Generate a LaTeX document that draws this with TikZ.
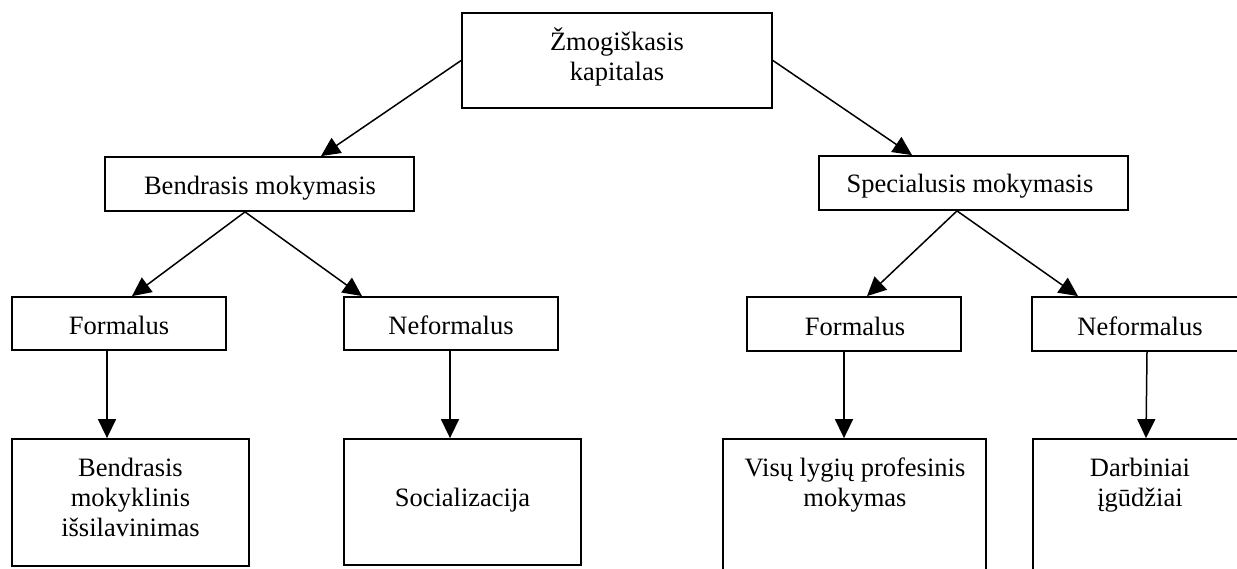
\documentclass[tikz,border=0pt]{standalone}
\usepackage{fontspec}
\setmainfont{Liberation Serif}
\usetikzlibrary{arrows.meta}
\begin{document}
\begin{tikzpicture}[x=1pt, y=-1pt,
  box/.style={draw, line width=1.8pt, rectangle, inner sep=0pt},
  lbl/.style={font=\fontsize{26.5}{30}\selectfont, align=center, inner sep=0pt},
  arr/.style={line width=1.5pt, -{Triangle[length=19pt, width=18pt]}}]
\clip (0,0) rectangle (1237,568);

% boxes
\node[box, minimum width=310pt, minimum height=95pt]  (top) at (617,60.5) {};
\node[box, minimum width=309pt, minimum height=54pt]  (bm)  at (259.5,184) {};
\node[box, minimum width=309pt, minimum height=54pt]  (sm)  at (973.5,183) {};
\node[box, minimum width=214pt, minimum height=53pt]  (f1)  at (119,323.5) {};
\node[box, minimum width=214pt, minimum height=53pt]  (n1)  at (451,323.5) {};
\node[box, minimum width=214pt, minimum height=54pt]  (f2)  at (854,324) {};
\node[box, minimum width=215pt, minimum height=54pt]  (n2)  at (1139.5,324) {};
\node[box, minimum width=237pt, minimum height=127pt] (b1)  at (130.5,502.5) {};
\node[box, minimum width=237pt, minimum height=126pt] (b2)  at (462.5,502) {};
\node[box, minimum width=263pt, minimum height=161pt] (b3)  at (854.5,519.5) {};
\node[box, minimum width=214pt, minimum height=161pt] (b4)  at (1140,519.5) {};

% labels
\node[lbl, anchor=north] (ttop) at (617,25) {\rule{0pt}{25pt}Žmogiškasis\\kapitalas};
\node[lbl, anchor=base]  (tbm)  at (260,194) {Bendrasis mokymasis};
\node[lbl, anchor=base]  (tsm)  at (970,192) {Specialusis mokymasis};
\node[lbl, anchor=base]  (tf1)  at (119,334) {Formalus};
\node[lbl, anchor=base]  (tn1)  at (451,334) {Neformalus};
\node[lbl, anchor=base]  (tf2)  at (855,335) {Formalus};
\node[lbl, anchor=base]  (tn2)  at (1140,335) {Neformalus};
\node[lbl, anchor=north] (tb1)  at (130.5,451) {\rule{0pt}{25pt}Bendrasis\\mokyklinis\\išsilavinimas};
\node[lbl, anchor=base]  (tb2)  at (462.5,506) {Socializacija};
\node[lbl, anchor=north] (tb3)  at (855,451) {\rule{0pt}{25pt}Visų lygių profesinis\\mokymas};
\node[lbl, anchor=north] (tb4)  at (1140,451) {\rule{0pt}{25pt}Darbiniai\\įgūdžiai};

% connectors
\draw[arr] (top.west) -- ([xshift=61.5pt]bm.north);
\draw[arr] (top.east) -- ([xshift=-61.5pt]sm.north);
\draw[arr] ([xshift=-14.5pt]bm.south) -- ([xshift=13pt]f1.north);
\draw[arr] ([xshift=-14.5pt]bm.south) -- ([xshift=-89pt]n1.north);
\draw[arr] ([xshift=-16.5pt]sm.south) -- ([xshift=13pt]f2.north);
\draw[arr] ([xshift=-16.5pt]sm.south) -- ([xshift=-61.5pt]n2.north);
\draw[arr] ([xshift=-12pt]f1.south) -- ([xshift=-23.5pt]b1.north);
\draw[arr] ([xshift=-1pt]n1.south) -- ([xshift=-12.5pt]b2.north);
\draw[arr] ([xshift=-10pt]f2.south) -- ([xshift=-10.5pt]b3.north);
\draw[arr] ([xshift=7.5pt]n2.south) -- ([xshift=6pt]b4.north);
\end{tikzpicture}
\end{document}
